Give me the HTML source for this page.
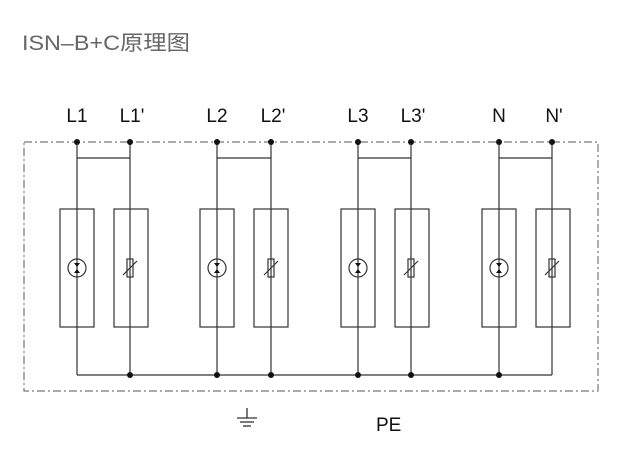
<!DOCTYPE html>
<html><head><meta charset="utf-8"><style>
html,body{margin:0;padding:0;background:#fff;width:617px;height:458px;overflow:hidden}
</style></head><body>
<svg width="617" height="458" viewBox="0 0 617 458" xmlns="http://www.w3.org/2000/svg" font-family="Liberation Sans, Noto Sans CJK SC, sans-serif">
<text x="22" y="50" font-size="21" fill="#666" textLength="168" lengthAdjust="spacingAndGlyphs" font-family="Liberation Sans, Noto Sans CJK SC, sans-serif">ISN–B+C原理图</text>
<rect x="24" y="142" width="574" height="249" fill="none" stroke="#777" stroke-width="1.2" stroke-dasharray="8,3,2,3"/>
<g font-size="19" fill="#111">
<text x="77" y="122" text-anchor="middle">L1</text><text x="132" y="122" text-anchor="middle">L1'</text>
<text x="217" y="122" text-anchor="middle">L2</text><text x="273" y="122" text-anchor="middle">L2'</text>
<text x="358" y="122" text-anchor="middle">L3</text><text x="413" y="122" text-anchor="middle">L3'</text>
<text x="499" y="122" text-anchor="middle">N</text><text x="554" y="122" text-anchor="middle">N'</text>
</g>
<line x1="77" y1="375" x2="552" y2="375" stroke="#333" stroke-width="1.3"/>
<g stroke="#333" stroke-width="1.2" fill="none">
<g transform="translate(0,0)">
<line x1="77" y1="142" x2="77" y2="375"/><line x1="130" y1="142" x2="130" y2="375"/><line x1="77" y1="158" x2="130" y2="158"/>
<rect x="60" y="209" width="34" height="118"/><rect x="114" y="209" width="34" height="118"/>
<circle cx="77" cy="268" r="9"/><rect x="127" y="259" width="6" height="18"/><line x1="123" y1="275" x2="137" y2="261"/>
</g>
<g transform="translate(140,0)">
<line x1="77" y1="142" x2="77" y2="375"/><line x1="131" y1="142" x2="131" y2="375"/><line x1="77" y1="158" x2="131" y2="158"/>
<rect x="60" y="209" width="34" height="118"/><rect x="114" y="209" width="34" height="118"/>
<circle cx="77" cy="268" r="9"/><rect x="128" y="259" width="6" height="18"/><line x1="124" y1="275" x2="138" y2="261"/>
</g>
<g transform="translate(281,0)">
<line x1="77" y1="142" x2="77" y2="375"/><line x1="130" y1="142" x2="130" y2="375"/><line x1="77" y1="158" x2="130" y2="158"/>
<rect x="60" y="209" width="34" height="118"/><rect x="114" y="209" width="34" height="118"/>
<circle cx="77" cy="268" r="9"/><rect x="127" y="259" width="6" height="18"/><line x1="123" y1="275" x2="137" y2="261"/>
</g>
<g transform="translate(422,0)">
<line x1="77" y1="142" x2="77" y2="375"/><line x1="130" y1="142" x2="130" y2="375"/><line x1="77" y1="158" x2="130" y2="158"/>
<rect x="60" y="209" width="34" height="118"/><rect x="114" y="209" width="34" height="118"/>
<circle cx="77" cy="268" r="9"/><rect x="127" y="259" width="6" height="18"/><line x1="123" y1="275" x2="137" y2="261"/>
</g>
</g>
<g fill="#111">
<polygon points="74,263 80,263 77,267"/><polygon points="74,273 80,273 77,269"/>
<polygon points="214,263 220,263 217,267"/><polygon points="214,273 220,273 217,269"/>
<polygon points="355,263 361,263 358,267"/><polygon points="355,273 361,273 358,269"/>
<polygon points="496,263 502,263 499,267"/><polygon points="496,273 502,273 499,269"/>
<circle cx="77" cy="142" r="3"/><circle cx="130" cy="142" r="3"/><circle cx="217" cy="142" r="3"/><circle cx="271" cy="142" r="3"/>
<circle cx="358" cy="142" r="3"/><circle cx="411" cy="142" r="3"/><circle cx="499" cy="142" r="3"/><circle cx="552" cy="142" r="3"/>
<circle cx="130" cy="375" r="3"/><circle cx="217" cy="375" r="3"/><circle cx="271" cy="375" r="3"/>
<circle cx="358" cy="375" r="3"/><circle cx="411" cy="375" r="3"/><circle cx="499" cy="375" r="3"/>
</g>
<g stroke="#333" stroke-width="1.3">
<line x1="247" y1="408" x2="247" y2="418"/><line x1="237" y1="418" x2="257" y2="418"/><line x1="240" y1="422" x2="254" y2="422"/><line x1="243" y1="426" x2="251" y2="426"/>
</g>
<text x="376" y="431" font-size="19" fill="#111">PE</text>
</svg>
</body></html>
